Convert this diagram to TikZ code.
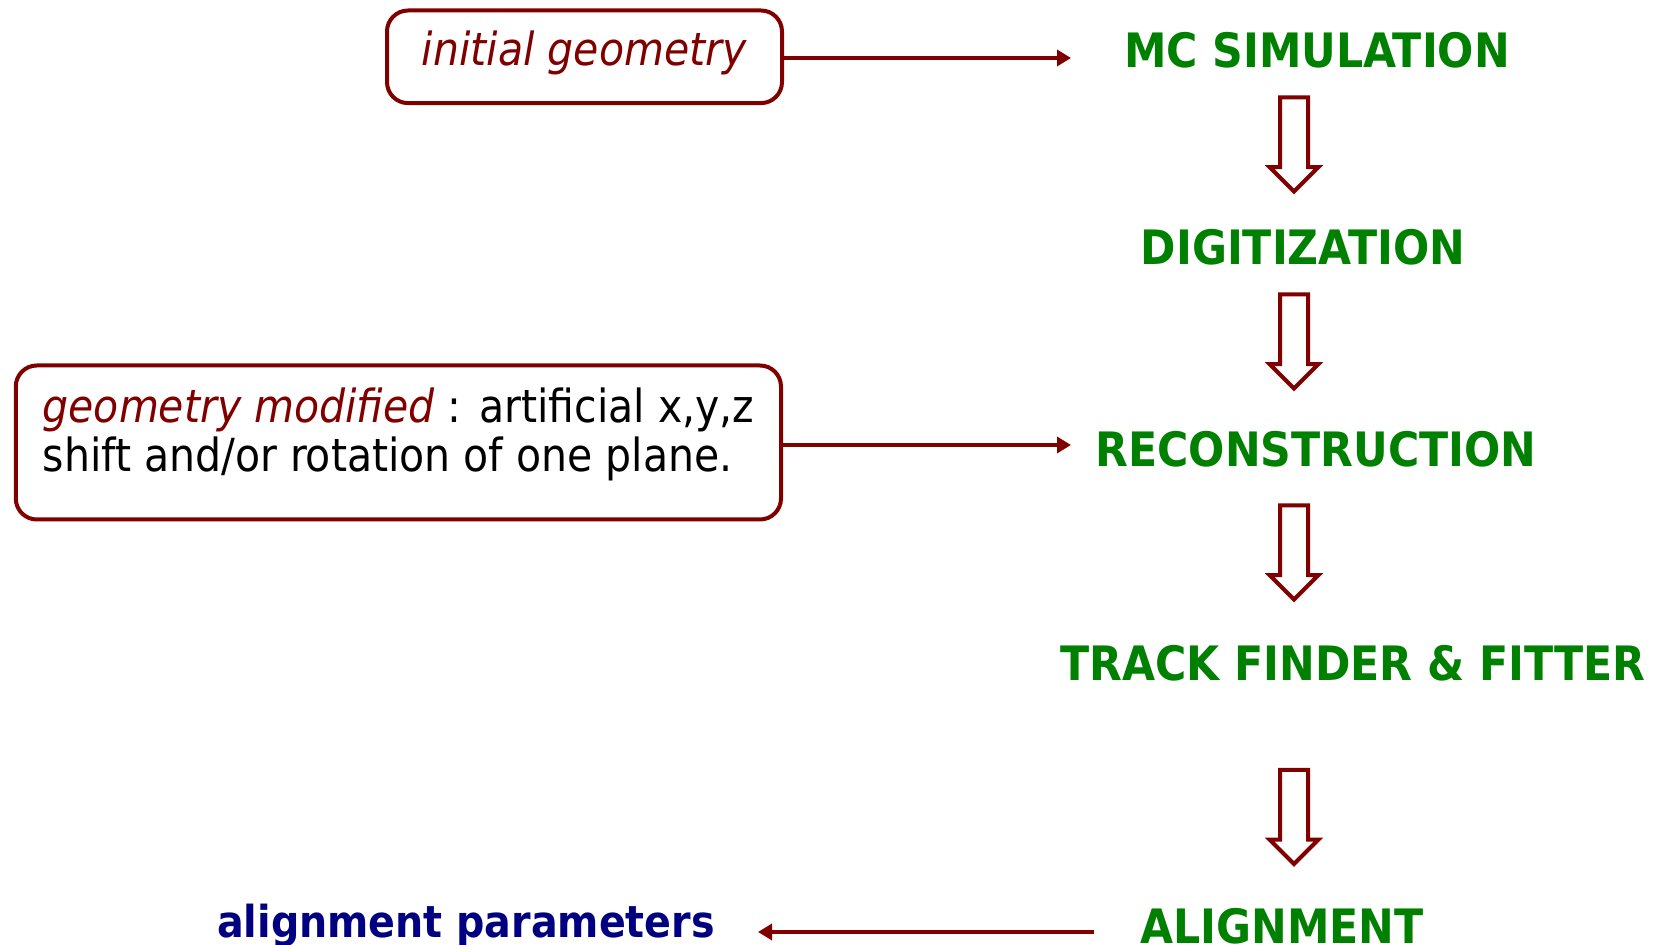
\documentclass[tikz,border=0pt]{standalone}
\usepackage{fontspec}
\setmainfont{DejaVu Sans Condensed}
\usetikzlibrary{arrows.meta,shapes.arrows}
\definecolor{stagegreen}{HTML}{008000}
\definecolor{darkred}{HTML}{800000}
\definecolor{navyblue}{HTML}{000080}

\begin{document}
\begin{tikzpicture}[x=0.5pt, y=-0.5pt,
    stage/.style={font=\fontsize{23.7}{28}\selectfont\bfseries, text=stagegreen, anchor=base, inner sep=0pt},
    geobox/.style={draw=darkred, line width=2pt, rounded corners=10.5pt, align=left, font=\fontsize{22.8}{24.5}\selectfont, inner sep=0pt},
    flow/.style={single arrow, draw=darkred, line width=2pt, rotate=-90, inner sep=6pt, minimum width=0pt, minimum height=47pt, single arrow head extend=5.2pt},
    link/.style={-{Triangle[length=7pt,width=8pt]}, draw=darkred, line width=1.7pt}
]
    \useasboundingbox (0,0) rectangle (1662,945);

    % processing chain
    \node[stage] (sim) at (1317,67.5) {MC SIMULATION};
    \node[stage] (digi) at (1303,265) {DIGITIZATION};
    \node[stage] (reco) at (1316,467) {RECONSTRUCTION};
    \node[stage] (track) at (1353,681) {TRACK FINDER \& FITTER};
    \node[stage] (align) at (1282,944) {ALIGNMENT};

    \node[flow] (f1) at (1294,137.5) {};
    \node[flow] (f2) at (1294,334.5) {};
    \node[flow] (f3) at (1294,545.5) {};
    \node[flow] (f4) at (1294,810) {};

    % geometry inputs
    \node[geobox, text=darkred, text depth=8.5pt, minimum width=197.5pt, minimum height=46.3pt] (init) at (584.5,56.8) {\textit{initial geometry}};
    \node[geobox, text depth=12.8pt, minimum width=382.6pt, minimum height=77pt] (modif) at (398.4,442.5) {{\color{darkred}\textit{geometry modified}} : artificial x,y,z\\shift and/or rotation of one plane.};

    % output
    \node[font=\fontsize{22}{26}\selectfont\bfseries, text=navyblue, anchor=base, inner sep=0pt] (params) at (466,938) {alignment parameters};

    \coordinate (simin) at (1071,58);
    \coordinate (recoin) at (1071,445);
    \coordinate (alignout) at (1094,932);
    \coordinate (paramsin) at (758,932);

    \draw[link] (init.east |- simin) -- (simin);
    \draw[link] (modif.east |- recoin) -- (recoin);
    \draw[link] (alignout) -- (paramsin);
\end{tikzpicture}
\end{document}
